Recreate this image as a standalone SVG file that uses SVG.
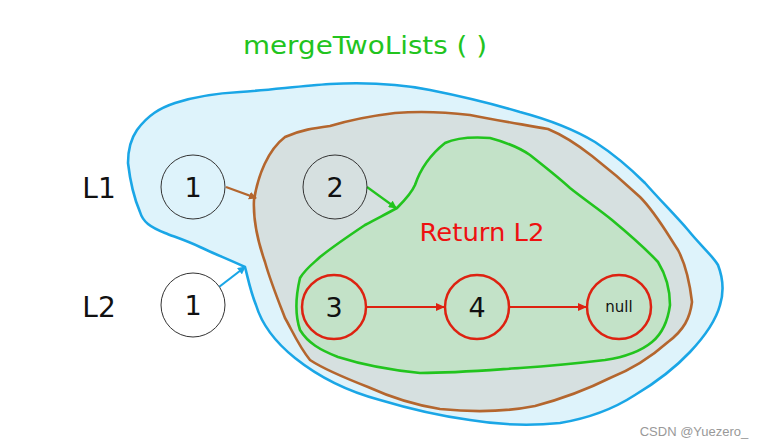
<svg xmlns="http://www.w3.org/2000/svg" width="763" height="446" viewBox="0 0 763 446">
<defs>
<style>
.lbl{font-family:"Comic Sans MS","DejaVu Sans","Noto Sans",sans-serif;fill:#111;text-anchor:middle}
.node{fill:none;stroke:#333;stroke-width:1}
.rnode{fill:none;stroke:#dd2211;stroke-width:2.5}
.blob{stroke-width:2.6;stroke-linejoin:round;fill-rule:nonzero}
</style>
<marker id="abr" markerWidth="8" markerHeight="8" refX="7" refY="4" orient="auto" markerUnits="userSpaceOnUse"><path d="M0,0 L8,4 L0,8 z" fill="#b4662e"/></marker>
<marker id="agr" markerWidth="8" markerHeight="8" refX="7" refY="4" orient="auto" markerUnits="userSpaceOnUse"><path d="M0,0 L8,4 L0,8 z" fill="#22c41e"/></marker>
<marker id="abl" markerWidth="8" markerHeight="8" refX="7" refY="4" orient="auto" markerUnits="userSpaceOnUse"><path d="M0,0 L8,4 L0,8 z" fill="#1aa6e6"/></marker>
<marker id="ard" markerWidth="9" markerHeight="8" refX="8" refY="4" orient="auto" markerUnits="userSpaceOnUse"><path d="M0,0 L9,4 L0,8 z" fill="#dd2211"/></marker>
</defs>
<rect width="763" height="446" fill="#ffffff"/>
<g id="blob-blue">
<path class="blob" fill="#def3fb" stroke="#1aa6e6" d="M245,267 C230,260 210,252 200,247 C185,240 172,236 165,233 C150,227 143,222 140,212 C134,198 130,180 128,163 C128,150 130,140 137,130 C148,115 160,108 175,103 C200,95 220,93 240,92 C270,90 300,86 330,84 C370,82 400,84 430,90 C460,96 490,103 520,112 C550,120 575,130 595,142 C615,155 630,168 645,183 C660,200 675,215 688,230 C700,245 712,255 718,265 C723,278 724,292 720,305 C716,320 706,335 690,352 C675,368 655,383 635,395 C615,408 590,418 560,423 C530,426 500,425 470,420 C440,416 410,409 380,400 C350,392 320,378 295,358 C275,342 262,325 256,305 C250,290 248,278 245,267 Z"/>
</g>
<g id="blob-brown">
<path class="blob" fill="#d6e0e0" stroke="#b4662e" d="M254,200 C258,175 268,150 285,137 C300,130 315,128 330,126 C350,120 370,116 395,113 C420,111 445,112 470,115 C495,120 520,124 548,129 C565,136 578,145 592,156 C610,170 625,183 640,197 C655,212 665,230 678,250 C686,265 690,285 692,302 C690,318 684,330 668,342 C650,358 630,370 610,378 C590,388 565,398 535,406 C505,412 470,412 440,409 C415,405 390,397 368,387 C345,378 325,370 310,360 C298,345 292,330 285,318 C278,300 270,280 265,262 C258,242 253,220 254,200 Z"/>
</g>
<g id="blob-green">
<path class="blob" fill="#c3e2c8" stroke="#22c41e" d="M397,208 C405,200 412,192 415,185 C420,170 430,155 445,143 C458,137 475,137 490,138 C505,142 520,148 530,155 C545,167 558,177 570,188 C585,200 600,210 612,220 C630,235 645,248 658,262 C666,275 670,290 670,305 C668,320 663,333 652,342 C640,352 625,357 605,360 C580,363 550,366 520,368 C490,370 455,373 420,373 C390,370 360,364 338,357 C320,350 308,343 300,330 C295,315 296,295 300,278 C306,268 315,262 320,257 C335,245 350,235 365,225 C378,218 388,213 397,208 Z"/>
</g>
<g id="title"><text x="365" y="54" font-family="'Comic Sans MS','DejaVu Sans','Noto Sans',sans-serif" font-size="25" fill="#22c41e" text-anchor="middle" textLength="244" lengthAdjust="spacingAndGlyphs">mergeTwoLists ( )</text></g>
<g id="return-label"><text x="482" y="241" font-family="'Comic Sans MS','DejaVu Sans','Noto Sans',sans-serif" font-size="25" fill="#ee1111" text-anchor="middle" textLength="125" lengthAdjust="spacingAndGlyphs">Return L2</text></g>
<g id="label-L1"><text class="lbl" x="99" y="198" font-size="28">L1</text></g>
<g id="label-L2"><text class="lbl" x="99" y="317" font-size="28">L2</text></g>
<g id="connectors">
<line x1="226" y1="187" x2="256" y2="198" stroke="#b4662e" stroke-width="2.2" marker-end="url(#abr)"/>
<line x1="367" y1="187" x2="396" y2="208" stroke="#22c41e" stroke-width="2.2" marker-end="url(#agr)"/>
<line x1="219" y1="287" x2="245" y2="267" stroke="#1aa6e6" stroke-width="2.2" marker-end="url(#abl)"/>
<line x1="366" y1="307" x2="444" y2="307" stroke="#dd2211" stroke-width="2.2" marker-end="url(#ard)"/>
<line x1="509" y1="307" x2="586" y2="307" stroke="#dd2211" stroke-width="2.2" marker-end="url(#ard)"/>
</g>
<g id="node-l1-1"><circle class="node" cx="193" cy="187" r="32"/><text class="lbl" x="193" y="197" font-size="27">1</text></g>
<g id="node-l2-1"><circle class="node" cx="193" cy="305" r="32" fill="#fff" style="fill:#fff"/><text class="lbl" x="193" y="315" font-size="27">1</text></g>
<g id="node-2"><circle class="node" cx="335" cy="187" r="32"/><text class="lbl" x="335" y="197" font-size="27">2</text></g>
<g id="node-3"><circle class="rnode" cx="334" cy="307" r="32"/><text class="lbl" x="334" y="317" font-size="27">3</text></g>
<g id="node-4"><circle class="rnode" cx="477" cy="307" r="32"/><text class="lbl" x="477" y="317" font-size="27">4</text></g>
<g id="node-null"><circle class="rnode" cx="619" cy="307" r="32"/><text class="lbl" x="619" y="312" font-size="15">null</text></g>
<g id="watermark"><text x="694" y="436" font-family="'Liberation Sans',Arial,sans-serif" font-size="13" fill="#999" text-anchor="middle">CSDN @Yuezero_</text></g>
</svg>
